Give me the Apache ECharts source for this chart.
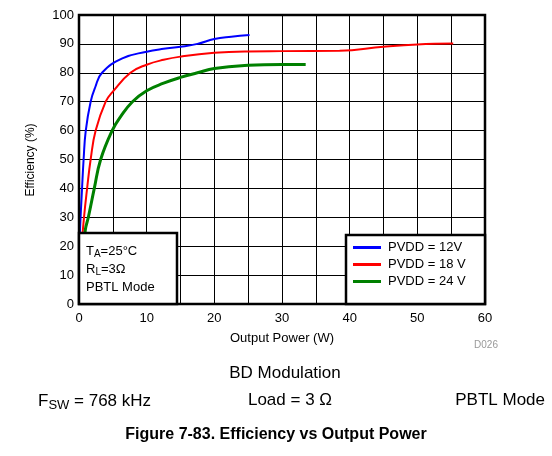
<!DOCTYPE html>
<html>
<head>
<meta charset="utf-8">
<script src="https://cdn.jsdelivr.net/npm/echarts@6/dist/echarts.min.js"></script>
<style>
  html, body { margin: 0; padding: 0; background: #fff; }
  #chart { width: 552px; height: 456px; }
</style>
</head>
<body>
<div id="chart"></div>
<script>
// Efficiency (%) against output power (W), one curve per supply voltage
const power12 = [0.05, 0.15, 0.45, 0.68, 1.0, 1.72, 2.4, 3.4, 6.4, 10, 12.5, 15, 17.5, 20, 22.5, 25.2];
const eff12   = [18, 25.6, 40, 50, 60, 70, 75, 80, 85, 87.3, 88.3, 89, 90, 91.7, 92.5, 93.1];

const power18 = [0.2, 0.74, 1.2, 1.72, 2.46, 3.94, 5, 7.6, 10, 12.5, 15, 20, 25, 30, 38.5, 45, 50, 55.3];
const eff18   = [15, 30, 40, 50, 60, 70, 73.5, 80, 82.8, 84.5, 85.6, 86.9, 87.4, 87.5, 87.6, 89, 89.8, 90.1];

const power24 = [0.7, 0.93, 1.38, 2.26, 3.2, 4.9, 6.2, 7.9, 10, 12.5, 15, 17.5, 20, 25, 30, 33.5];
const eff24   = [18, 25.6, 30, 40, 50, 60, 65, 70, 73.8, 76.4, 78.4, 80, 81.5, 82.6, 82.9, 82.9];

const seriesNames = ['PVDD = 12V', 'PVDD = 18 V', 'PVDD = 24 V'];
const seriesColors = ['#0000ff', '#ff0000', '#008000'];
const seriesWidths = [2, 2, 3];

const xTicks = [0, 10, 20, 30, 40, 50, 60];
const yTicks = [0, 10, 20, 30, 40, 50, 60, 70, 80, 90, 100];

const FONT = 'Liberation Sans, Arial, sans-serif';

function pairs(xs, ys) {
  return xs.map((x, i) => [x, ys[i]]);
}

const curveData = [pairs(power12, eff12), pairs(power18, eff18), pairs(power24, eff24)];

const chart = echarts.init(document.getElementById('chart'), null, { renderer: 'canvas' });

const G = { left: 79, top: 15, right: 67, bottom: 152 };

chart.setOption({
  animation: false,
  backgroundColor: '#ffffff',
  textStyle: { fontFamily: FONT },
  grid: {
    left: G.left, top: G.top, right: G.right, bottom: G.bottom,
    show: true, borderColor: '#000', borderWidth: 2.5, backgroundColor: 'transparent', z: 5
  },
  xAxis: {
    type: 'value', min: 0, max: 60, interval: 5,
    axisLine: { show: false }, axisTick: { show: false },
    splitLine: { show: true, lineStyle: { color: '#000', width: 1 } },
    axisLabel: {
      color: '#000', fontSize: 13, margin: 8, fontFamily: FONT,
      formatter: v => (xTicks.indexOf(v) >= 0 ? String(v) : '')
    }
  },
  yAxis: {
    type: 'value', min: 0, max: 100, interval: 10,
    axisLine: { show: false }, axisTick: { show: false },
    splitLine: { show: true, lineStyle: { color: '#000', width: 1 } },
    axisLabel: {
      color: '#000', fontSize: 13, margin: 5, fontFamily: FONT,
      formatter: v => (yTicks.indexOf(v) >= 0 ? String(v) : '')
    }
  },
  legend: {
    orient: 'vertical',
    left: 353, top: 241,
    itemWidth: 28, itemHeight: 3, itemGap: 4,
    icon: 'rect',
    padding: 0,
    z: 20,
    textStyle: { color: '#000', fontSize: 13, fontFamily: FONT, padding: [0, 0, 0, 2] },
    data: seriesNames
  },
  series: seriesNames.map((name, i) => ({
    name: name,
    type: 'line',
    data: curveData[i],
    smooth: 0.45,
    showSymbol: false,
    clip: true,
    lineStyle: { color: seriesColors[i], width: seriesWidths[i] },
    itemStyle: { color: seriesColors[i] }
  })),
  graphic: [
    // condition box, lower left
    { type: 'rect', z: 10, shape: { x: 79, y: 233, width: 98, height: 71 },
      style: { fill: '#fff', stroke: '#000', lineWidth: 2.5 } },
    { type: 'text', z: 11, left: 86, top: 242,
      style: {
        text: 'T{s|A}=25°C\nR{s|L}=3Ω\nPBTL Mode',
        font: '13px ' + FONT, fill: '#000', lineHeight: 18,
        rich: { s: { fontSize: 10, fontFamily: FONT, padding: [6, 0, 0, 0] } }
      } },
    // legend box, lower right
    { type: 'rect', z: 10, shape: { x: 346, y: 235, width: 139, height: 69 },
      style: { fill: '#fff', stroke: '#000', lineWidth: 2.5 } },
    // axis titles
    { type: 'text', z: 11, x: 31, y: 160, rotation: Math.PI / 2,
      style: { text: 'Efficiency (%)', font: '12px ' + FONT, fill: '#000', align: 'center', verticalAlign: 'middle' } },
    { type: 'text', z: 11, x: 282, y: 338,
      style: { text: 'Output Power (W)', font: '13px ' + FONT, fill: '#000', align: 'center', verticalAlign: 'middle' } },
    { type: 'text', z: 11, x: 486, y: 345,
      style: { text: 'D026', font: '10px ' + FONT, fill: '#999', align: 'center', verticalAlign: 'middle' } },
    // test conditions under the chart
    { type: 'text', z: 11, x: 285, y: 373,
      style: { text: 'BD Modulation', font: '17px ' + FONT, fill: '#000', align: 'center', verticalAlign: 'middle' } },
    { type: 'text', z: 11, left: 38, top: 393,
      style: {
        text: 'F{s|SW} = 768 kHz', font: '17px ' + FONT, fill: '#000',
        rich: { s: { fontSize: 13, fontFamily: FONT, padding: [7, 0, 0, 0] } }
      } },
    { type: 'text', z: 11, x: 290, y: 400,
      style: { text: 'Load = 3 Ω', font: '17px ' + FONT, fill: '#000', align: 'center', verticalAlign: 'middle' } },
    { type: 'text', z: 11, x: 545, y: 400,
      style: { text: 'PBTL Mode', font: '17px ' + FONT, fill: '#000', align: 'right', verticalAlign: 'middle' } },
    { type: 'text', z: 11, x: 276, y: 435,
      style: { text: 'Figure 7-83. Efficiency vs Output Power', font: 'bold 16px ' + FONT, fill: '#000', align: 'center', verticalAlign: 'middle' } }
  ]
});
</script>
</body>
</html>
